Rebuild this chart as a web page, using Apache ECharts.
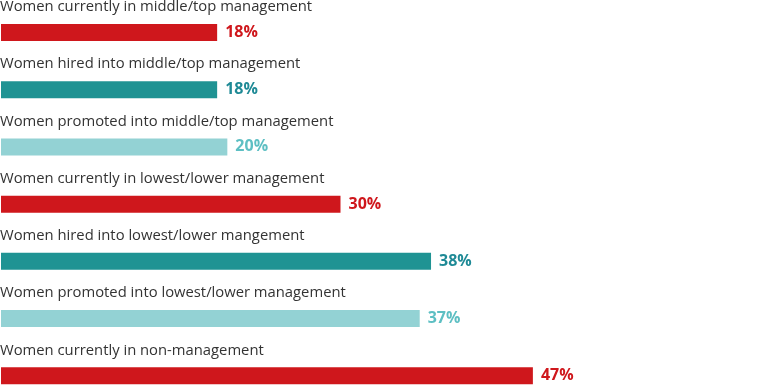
<!DOCTYPE html>
<html>
<head>
<meta charset="utf-8">
<script src="https://cdn.jsdelivr.net/npm/echarts@6/dist/echarts.min.js"></script>
<style>html,body{margin:0;padding:0;background:#fff;}#c{width:768px;height:390px;}</style>
</head>
<body>
<div id="c"></div>
<script>
var categories = [
  'Women currently in middle/top management',
  'Women hired into middle/top management',
  'Women promoted into middle/top management',
  'Women currently in lowest/lower management',
  'Women hired into lowest/lower mangement',
  'Women promoted into lowest/lower management',
  'Women currently in non-management'
];
var values = [19.1, 19.1, 20, 30, 38, 37, 47];
var valueLabels = ['18%', '18%', '20%', '30%', '38%', '37%', '47%'];
var barColors = ['#CF171C', '#1F9393', '#93D2D4', '#CF171C', '#1F9393', '#93D2D4', '#CF171C'];
var labelColors = ['#CF171C', '#1F8A96', '#5DBFC3', '#CF171C', '#1F8A96', '#5DBFC3', '#CF171C'];

var chart = echarts.init(document.getElementById('c'));
chart.setOption({
  animation: false,
  grid: { left: 1, top: 32.5, width: 679, height: 343.3 },
  xAxis: { type: 'value', min: 0, max: 60, show: false },
  yAxis: { type: 'category', data: categories, inverse: true, boundaryGap: false, show: false },
  series: [
    {
      type: 'bar',
      barWidth: 17,
      clip: false,
      data: values.map(function (v, i) {
        return {
          value: v,
          itemStyle: { color: barColors[i] },
          label: { color: labelColors[i] }
        };
      }),
      label: {
        show: true,
        position: 'right',
        distance: 8,
        fontFamily: 'Open Sans',
        fontWeight: 'bold',
        fontSize: 16,
        formatter: function (p) { return valueLabels[p.dataIndex]; }
      }
    },
    {
      type: 'bar',
      barWidth: 17,
      barGap: '-100%',
      clip: false,
      silent: true,
      itemStyle: { color: 'rgba(0,0,0,0)' },
      data: values,
      label: {
        show: true,
        position: [-1, -17],
        align: 'left',
        verticalAlign: 'middle',
        color: '#333333',
        fontFamily: 'Open Sans',
        fontSize: 14.8,
        formatter: function (p) { return categories[p.dataIndex]; }
      }
    }
  ]
});
</script>
</body>
</html>
